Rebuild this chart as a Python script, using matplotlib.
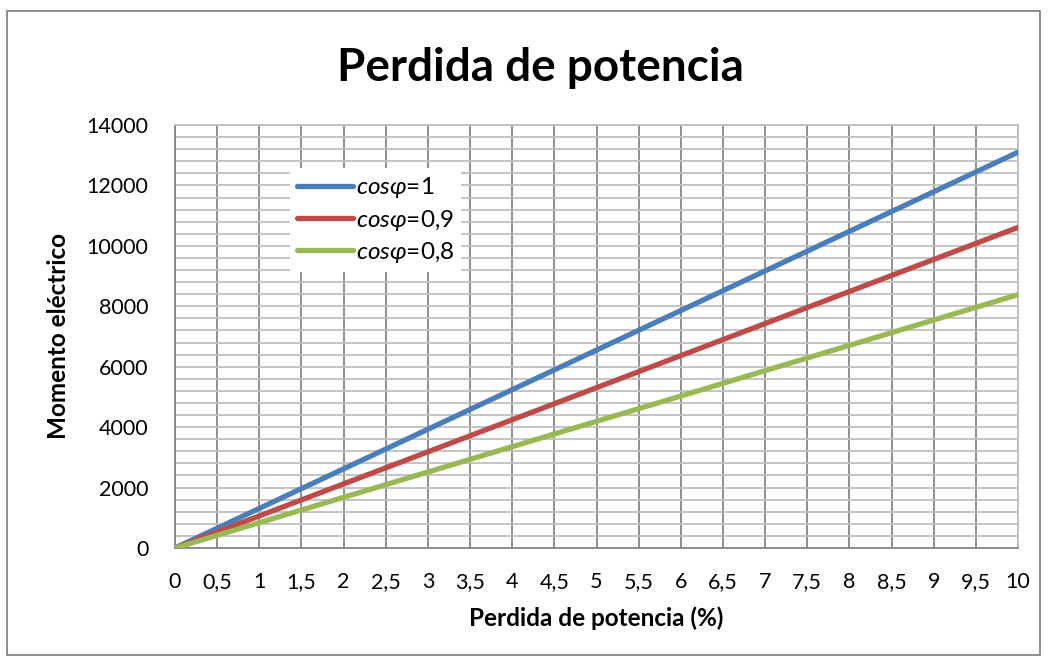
import matplotlib
matplotlib.use("Agg")
import matplotlib.pyplot as plt
from matplotlib.ticker import MultipleLocator
from matplotlib.patches import Rectangle

plt.rcParams['font.family'] = ['Lato', 'DejaVu Sans']
plt.rcParams['mathtext.fontset'] = 'custom'
plt.rcParams['mathtext.it'] = 'Lato:italic'
plt.rcParams['mathtext.rm'] = 'Lato'

# perdida de potencia (%)
x_vals = [0, 0.5, 1, 1.5, 2, 2.5, 3, 3.5, 4, 4.5, 5,
          5.5, 6, 6.5, 7, 7.5, 8, 8.5, 9, 9.5, 10]
x_labels = ["0", "0,5", "1", "1,5", "2", "2,5", "3", "3,5", "4", "4,5", "5",
            "5,5", "6", "6,5", "7", "7,5", "8", "8,5", "9", "9,5", "10"]

# momento electrico
cos_1 = [0, 655, 1310, 1965, 2620, 3275, 3930, 4585, 5240, 5895, 6550,
         7205, 7860, 8515, 9170, 9825, 10480, 11135, 11790, 12445, 13100]
cos_09 = [0, 531, 1061, 1592, 2122, 2653, 3183, 3714, 4244, 4775, 5306,
          5836, 6367, 6897, 7428, 7958, 8489, 9019, 9550, 10080, 10611]
cos_08 = [0, 419, 838, 1258, 1677, 2096, 2515, 2934, 3354, 3773, 4192,
          4611, 5030, 5450, 5869, 6288, 6707, 7126, 7546, 7965, 8384]

series = [
    (cos_1, r"$cos\varphi$=1", "#4A7EBB"),
    (cos_09, r"$cos\varphi$=0,9", "#BE4B48"),
    (cos_08, r"$cos\varphi$=0,8", "#98B954"),
]

fig = plt.figure(figsize=(10.5, 6.64), dpi=100)
ax = fig.add_axes([175/1050, 116/664, 843/1050, 423/664])

for ys, lab, col in series:
    ax.plot(x_vals, ys, color=col, lw=3.8, label=lab, solid_capstyle='round', zorder=3)

ax.set_xlim(0, 10)
ax.set_ylim(0, 14000)
ax.set_xticks(x_vals)
ax.set_xticklabels(x_labels)
ax.yaxis.set_major_locator(MultipleLocator(2000))
ax.yaxis.set_minor_locator(MultipleLocator(400))

ax.grid(axis='y', which='both', color='#BFBFBF', lw=1.3, zorder=1)
ax.grid(axis='x', which='major', color='#868686', lw=1.3, zorder=1)
ax.set_axisbelow(True)

for s in ['top', 'right']:
    ax.spines[s].set_color('#BFBFBF')
for s in ['left', 'bottom']:
    ax.spines[s].set_color('#868686')
for s in ax.spines.values():
    s.set_linewidth(1.3)

ax.tick_params(axis='both', which='both', length=0, labelsize=15.5)
ax.tick_params(axis='y', pad=19)
ax.tick_params(axis='x', pad=17)

ax.set_xlabel("Perdida de potencia (%)", fontsize=17.5, fontweight='bold', labelpad=11)
ax.set_ylabel("Momento eléctrico", fontsize=17.5, fontweight='bold', labelpad=12)

fig.text(540/1050, 1 - 68/664, "Perdida de potencia", fontsize=33, fontweight='bold',
         ha='center', va='center')

leg = ax.legend(loc='upper left', bbox_to_anchor=(290/1050, 1 - 168/664),
                bbox_transform=fig.transFigure, fontsize=17.5, frameon=True,
                fancybox=False, handlelength=2.3, handletextpad=0.1,
                labelspacing=0.3, borderpad=0.3, borderaxespad=0)
leg.get_frame().set_edgecolor('none')
leg.get_frame().set_facecolor('white')
leg.get_frame().set_alpha(1)

fig.patches.append(Rectangle((7/1050, 9/664), 1033/1050, 644/664, transform=fig.transFigure,
                             fill=False, edgecolor='#868686', lw=1.3))

fig.savefig("out.png", dpi=100)
